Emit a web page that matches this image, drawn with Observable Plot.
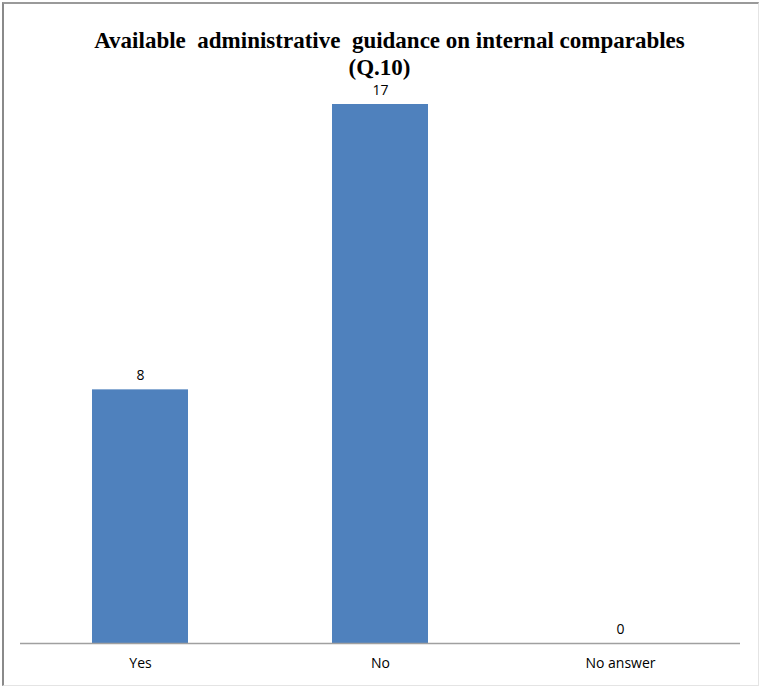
<!DOCTYPE html>
<html>
<head>
<meta charset="utf-8">
<script src="https://cdn.jsdelivr.net/npm/d3@7"></script>
<script src="https://cdn.jsdelivr.net/npm/@observablehq/plot@0.6"></script>
<style>
  html, body { margin: 0; padding: 0; background: #fff; }
  #wrap { position: relative; width: 759px; height: 686px; overflow: hidden; }
  #frame { position: absolute; left: 2px; top: 2px; width: 754px; height: 681px;
           border-left: 2px solid #8a8a8a; border-top: 2px solid #9a9a9a;
           border-right: 1px solid #e4e4e4; border-bottom: 1px solid #e4e4e4; }
  #title { position: absolute; left: 0; top: 27px; width: 759px; text-align: center;
           font-family: "Liberation Serif", "Times New Roman", serif; font-weight: bold;
           font-size: 23px; line-height: 27px; color: #000; white-space: pre; }
  #title .l1 { display: block; padding-left: 20px; }
  #chart { position: absolute; left: 0; top: 0; }
</style>
</head>
<body>
<div id="wrap">
  <div id="frame"></div>
  <div id="chart"></div>
  <div id="title"><span class="l1">Available  administrative  guidance on internal comparables</span>(Q.10)</div>
</div>
<script>
const categories = ["Yes", "No", "No answer"];
const counts = [8, 17, 0];

const data = categories.map((c, i) => ({category: c, value: counts[i]}));

const chart = Plot.plot({
  width: 759,
  height: 686,
  marginTop: 104,
  marginBottom: 43,
  marginLeft: 20,
  marginRight: 19,
  style: {background: "transparent", fontFamily: "'Open Sans', 'Liberation Sans', sans-serif", fontSize: "14px", color: "#000"},
  x: {domain: categories, paddingInner: 0.6, paddingOuter: 0.3, label: null, tickSize: 0, tickPadding: 15},
  y: {domain: [0, 17], axis: null},
  marks: [
    Plot.barY(data, {x: "category", y: "value", fill: "#4f81bd"}),
    Plot.ruleY([0], {stroke: "#a0a0a0", strokeWidth: 1.5}),
    Plot.text(data, {x: "category", y: "value", text: d => String(d.value), dy: -14, fill: "#000", fontSize: 14})
  ]
});
document.getElementById("chart").appendChild(chart);
</script>
</body>
</html>
